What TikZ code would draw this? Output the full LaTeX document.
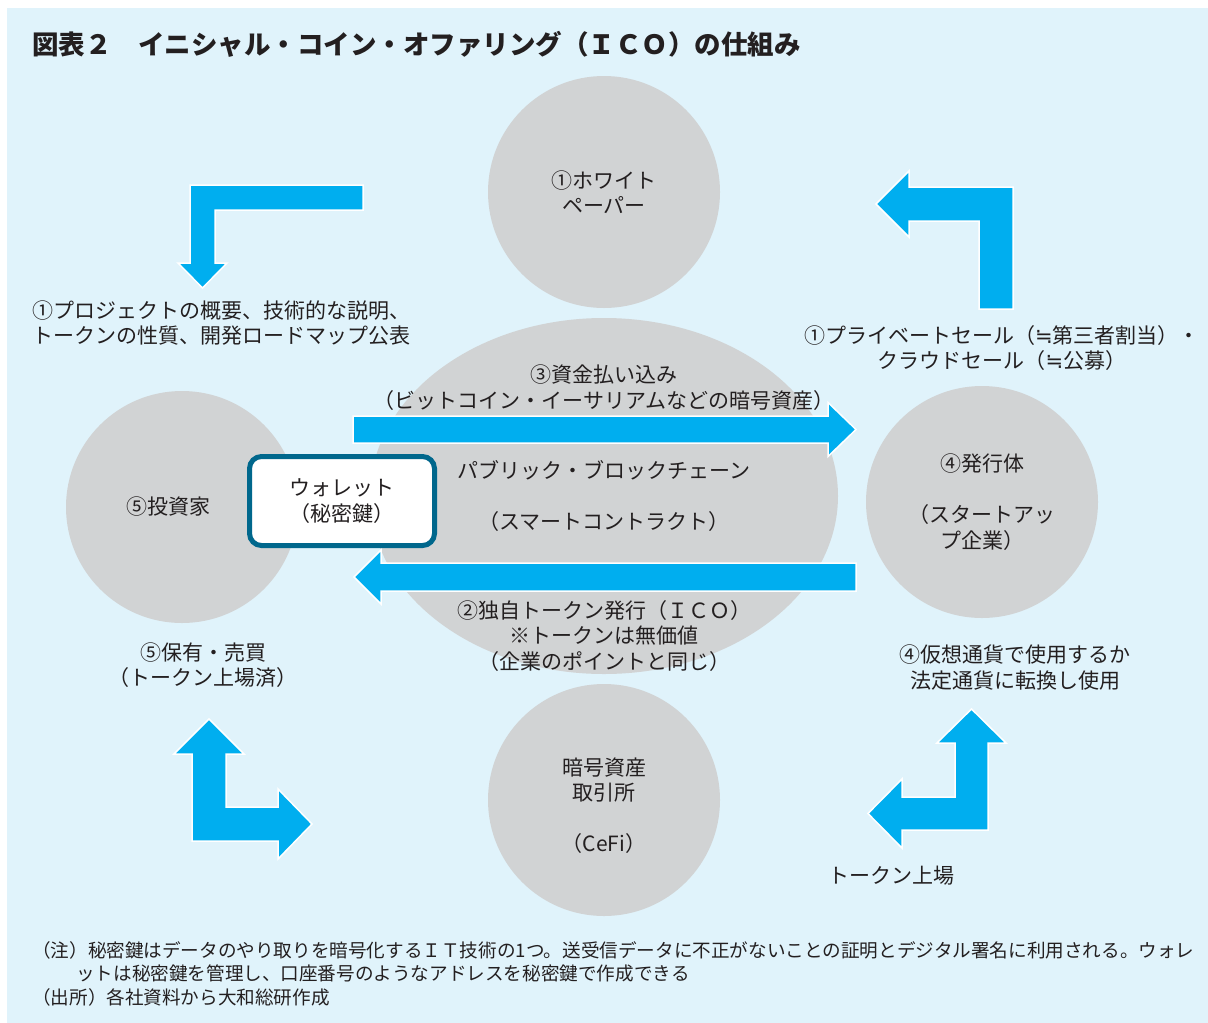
\documentclass[tikz,border=0pt]{standalone}
\usepackage{fontspec}
\setmainfont{Noto Sans CJK JP}
\newfontfamily\symfont{DejaVu Sans}
\usetikzlibrary{shapes.geometric}
\definecolor{panel}{RGB}{224,243,251}
\definecolor{circ}{RGB}{209,211,212}
\definecolor{arrowblue}{RGB}{0,174,239}
\definecolor{txt}{RGB}{35,31,32}
\definecolor{wallet}{RGB}{0,103,140}
\begin{document}
\begin{tikzpicture}[x=1pt,y=-1pt,
  lbl/.style={text=txt, align=center, inner sep=0, font=\fontsize{21}{25.5}\selectfont},
  note/.style={text=txt, anchor=west, inner sep=0, font=\fontsize{18.6}{22}\selectfont},
  disc/.style={circle, fill=circ, minimum size=232pt, inner sep=0},
  blockarrow/.style={fill=arrowblue, draw=white, line width=1.5pt, line join=miter}]
\useasboundingbox (0,0) rectangle (1208,1023);
\fill[white] (0,0) rectangle (1208,1023);
\fill[panel] (7,8) rectangle (1208,1023);

% title
\node[anchor=west, inner sep=0, text=txt, font=\fontsize{26.5}{30}\selectfont\bfseries] (title) at (32,44) {図表２　イニシャル・コイン・オファリング（ＩＣＯ）の仕組み};

% gray shapes
\node[disc] (paper) at (604,192) {};
\node[disc] (investor) at (182,507) {};
\node[disc] (issuer) at (982,502) {};
\node[disc] (exchange) at (604,800) {};
\node[ellipse, fill=circ, minimum width=468pt, minimum height=356pt, inner sep=0] (chain) at (604,496) {};

% texts in shapes
\node[lbl] (paperT) at (paper.center) {①ホワイト\\ペーパー};
\node[lbl] (investorT) at (168,507) {⑤投資家};
\node[lbl] (issuerT) at (982,502) {④発行体\\[25.5pt]（スタートアッ\\プ企業）};
\node[lbl] (exchangeT) at (604,805.5) {暗号資産\\取引所\\[25.5pt]（CeFi）};
\node[lbl] (chainT) at (604,496.5) {パブリック・ブロックチェーン\\[25.5pt]（スマートコントラクト）};

% other labels
\node[lbl, align=left, anchor=west] (projT) at (32,323) {①プロジェクトの概要、技術的な説明、\\トークンの性質、開発ロードマップ公表};
\node[lbl] (privT) at (1002,348) {①プライベートセール（{\symfont ≒}第三者割当）・\\クラウドセール（{\symfont ≒}公募）};
\node[lbl] (payT) at (604,387.5) {③資金払い込み\\（ビットコイン・イーサリアムなどの暗号資産）};
\node[lbl] (icoT) at (604,636) {②独自トークン発行（ＩＣＯ）\\※トークンは無価値\\（企業のポイントと同じ）};
\node[lbl] (holdT) at (203,665) {⑤保有・売買\\（トークン上場済）};
\node[lbl] (useT) at (1015,667.5) {④仮想通貨で使用するか\\法定通貨に転換し使用};
\node[lbl] (listT) at (891,876) {トークン上場};

% block arrows
\draw[blockarrow] (363,185) -- (190,185) -- (190,263) -- (178,263) -- (202.5,288) -- (227,263) -- (215,263) -- (215,210) -- (363,210) -- cycle;
\draw[blockarrow] (1013,309) -- (1013,187) -- (909,187) -- (909,171) -- (876,204) -- (909,237) -- (909,221) -- (979,221) -- (979,309) -- cycle;
\draw[blockarrow] (353,416) -- (828,416) -- (828,402.5) -- (856,429.5) -- (828,456.5) -- (828,443) -- (353,443) -- cycle;
\draw[blockarrow] (856,563) -- (381,563) -- (381,550) -- (354,577) -- (381,604) -- (381,591) -- (856,591) -- cycle;
\draw[blockarrow] (192,841) -- (192,754) -- (174,754) -- (209,719) -- (244,754) -- (226,754) -- (226,807) -- (278,807) -- (278,789) -- (312,824) -- (278,859) -- (278,841) -- cycle;
\draw[blockarrow] (988,830) -- (988,743) -- (1006,743) -- (971.5,709) -- (937,743) -- (955,743) -- (955,797) -- (902,797) -- (902,779) -- (868,813.5) -- (902,848) -- (902,830) -- cycle;

% wallet
\node[draw=wallet, line width=5pt, fill=white, rounded corners=12pt, minimum width=185pt, minimum height=89pt, inner sep=0] (walletbox) at (342,501) {};
\node[lbl] (walletT) at (walletbox.center) {ウォレット\\（秘密鍵）};

% notes
\node[note] (note1) at (32,950) {（注）秘密鍵はデータのやり取りを暗号化するＩＴ技術の1つ。送受信データに不正がないことの証明とデジタル署名に利用される。ウォレ};
\node[note] (note2) at (76,973) {ットは秘密鍵を管理し、口座番号のようなアドレスを秘密鍵で作成できる};
\node[note] (note3) at (32,997) {（出所）各社資料から大和総研作成};
\end{tikzpicture}
\end{document}
